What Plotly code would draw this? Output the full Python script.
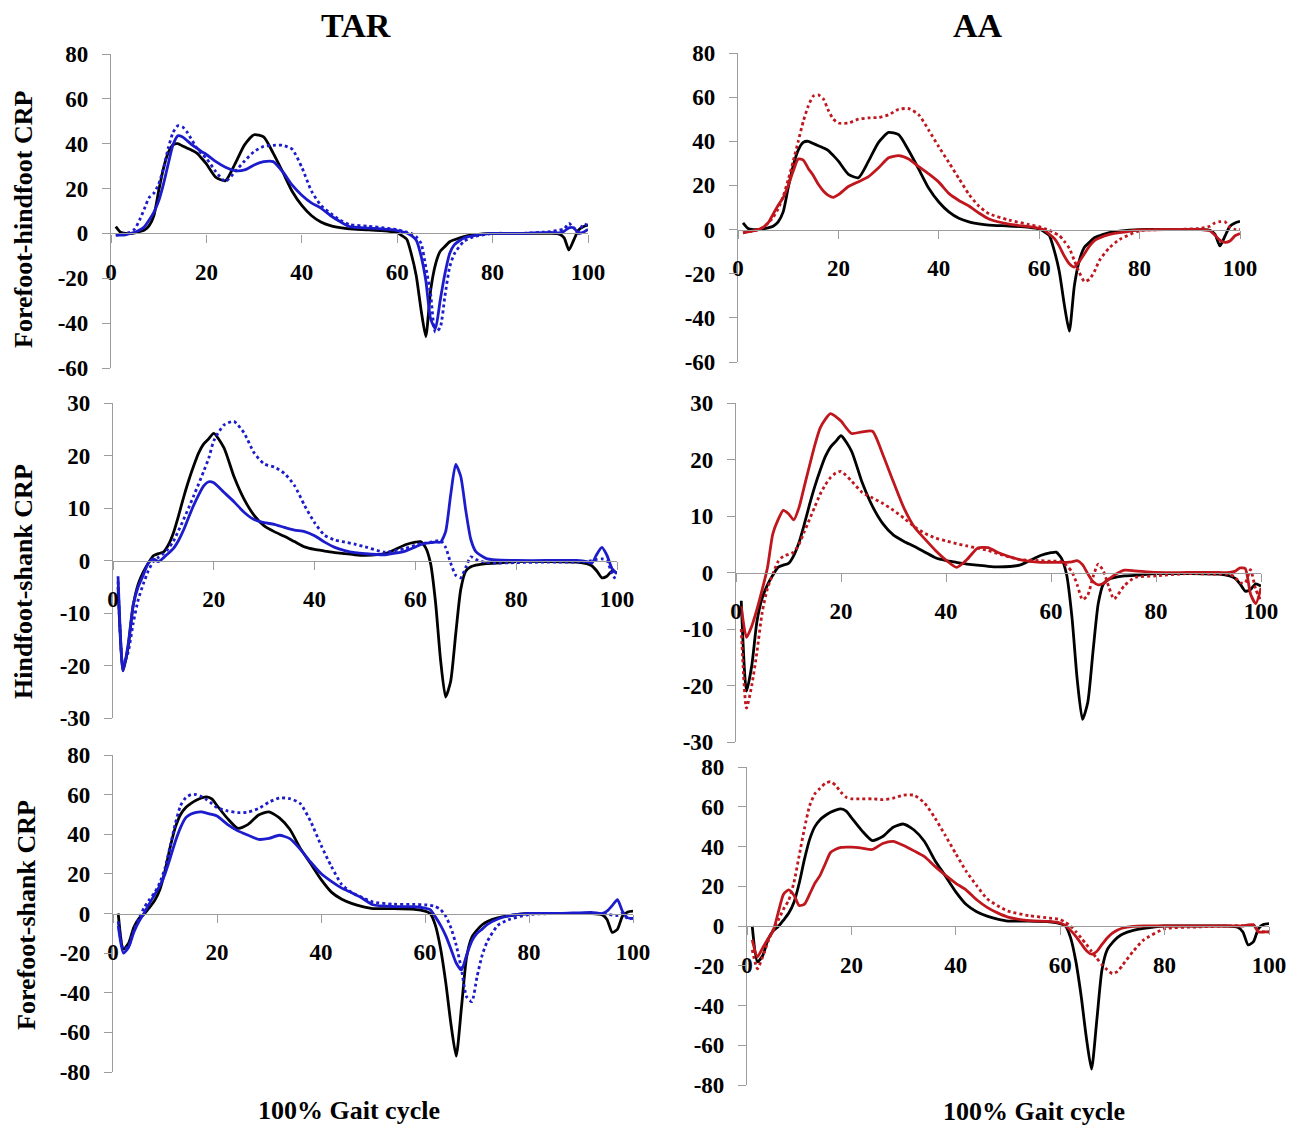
import plotly.graph_objects as go

W, H = 1299, 1131
OFF = 8  # the page body margin that the browser adds around the figure

# ---------------- data ----------------
GAIT = [1, 2, 3, 4, 5, 6, 7, 8, 9, 10,
        11, 12, 13, 14, 15, 16, 17, 18, 19, 20,
        22, 24, 26, 28, 30, 32, 34, 36, 38, 40,
        42, 44, 46, 48, 50, 54, 58, 60, 61, 62,
        63, 64, 65, 66, 67, 68, 69, 70, 71, 72,
        74, 76, 80, 86, 92, 94, 95, 96, 97, 98,
        99, 100]

# Forefoot-hindfoot CRP
FH_CONTROL = [3, 0.5, 0, 0, 0.3, 0.8, 1.5, 3.5, 8, 19,
              29, 36, 39.5, 40, 39, 38, 37, 35.8, 33.5, 31,
              25, 23.5, 31, 39.5, 44, 43, 35.8, 27.4, 18.7, 12.5,
              8, 5.1, 3.5, 2.6, 2, 1.6, 1, 0.3, -1, -2.6,
              -9.5, -19, -34, -46, -25.5, -14, -8, -5.8, -3.7, -2.8,
              -1.4, -0.7, 0, 0, 0, -0.3, -2, -7.4, -3, 1.5,
              3, 3.7]
FH_TAR_SOLID = [-0.7, -0.7, -0.6, 0, 0.5, 1.5, 3, 6, 9.5, 14.5,
                22, 31, 39.5, 43.5, 43, 41.3, 39.5, 38, 36.5, 35.2,
                32, 29.5, 28, 28.3, 30.5, 32, 32, 27.5, 21.5, 17,
                13.6, 11.3, 8, 5.3, 3, 2.4, 1.8, 1.3, 0.8, 0.2,
                -1, -3, -10, -21, -38, -42.5, -30, -18, -9, -5,
                -2, -1, 0, 0, 0.5, 0.2, 1, 2.5, 2.5, 0,
                0.5, 1.8]
FH_TAR_DOTTED = [-0.7, -0.5, 0, 0.5, 2, 6, 11, 16, 18, 22,
                 29, 38, 45, 48, 47.5, 45, 41.5, 38, 35.5, 33.5,
                 27.5, 23.2, 27.5, 32.3, 36.5, 38.8, 39.3, 39.3, 37.5, 29.5,
                 19, 12.5, 9, 6, 4, 3.2, 2.3, 1.7, 1.2, 0.6,
                 0, -1.5, -4.4, -15, -27, -44, -42, -28, -15, -9,
                 -3.5, -1.5, 0, 0, 0.8, 1.5, 2, 4.5, 2.5, 0.5,
                 4, 3.7]
FH_AA_SOLID = [-1.5, -1, -0.6, 0, 1, 3, 7, 11, 14.5, 20,
               26.5, 32, 31.5, 27.7, 24.5, 20.5, 17.5, 15.5, 14.6, 15.8,
               19.5, 21.7, 24, 28, 32.5, 33.5, 32, 28.5, 25.2, 21.5,
               16.4, 13.2, 10.7, 7.5, 4.8, 2.5, 1.3, 0.5, -0.2, -2,
               -4, -7.5, -12, -15.5, -17, -14.5, -11, -7.5, -5, -3.8,
               -2.2, -1.4, -0.2, 0, 0, -0.5, -2.5, -4.8, -5.8, -5.2,
               -2.8, -1.8]
FH_AA_DOTTED = [-1.5, -1, -0.6, 0, 1, 3, 5.5, 9.5, 15, 22.6,
                31, 40, 49, 56, 60.5, 61, 59.2, 54, 50, 48.3,
                48.3, 50, 50.6, 50.8, 52, 54.5, 54.8, 52, 45, 37.5,
                30.4, 23.2, 16, 10.6, 7.2, 4.3, 2.3, 1.3, 0.5, -0.3,
                -1.5, -2.7, -5.3, -8.5, -14, -19.5, -23.5, -22.5, -19, -14,
                -8.2, -4.5, -0.5, 0, 0.5, 1.5, 3, 3.6, 3.5, 1,
                0, 0]

# Hindfoot-shank CRP
HS_CONTROL = [-5, -21, -16.5, -8.6, -4.5, -2.2, -0.5, 0.9, 1.3, 1.6,
              3, 5.3, 8.5, 12, 15.2, 18, 20.5, 22.2, 23.2, 24.2,
              21.5, 16, 11.7, 8.6, 6.6, 5.5, 4.6, 3.6, 2.6, 2.1,
              1.8, 1.5, 1.3, 1.1, 1, 1.3, 3, 3.5, 3.6, 2.5,
              -0.5, -8, -19, -26, -23, -14, -5.5, -2, -1.2, -0.9,
              -0.6, -0.5, -0.2, -0.2, -0.3, -0.6, -1, -2, -3.3, -3,
              -2, -2.4]
HS_TAR_SOLID = [-3, -21, -16, -8.5, -5, -2.8, -0.5, 0.3, -0.2, 0.5,
                1.4, 2.3, 3.8, 5.8, 8.2, 10.5, 12.5, 14.2, 15, 14.8,
                13, 11.2, 9.2, 7.8, 7.2, 6.9, 6.3, 5.8, 5.5, 4.7,
                3.5, 2.5, 1.9, 1.5, 1.3, 1.1, 1.8, 2.6, 3, 3.3,
                3.4, 3.5, 3.5, 5.5, 12.5, 18.3, 16, 9.5, 4, 1.7,
                0.4, 0.1, 0, 0, 0, -0.2, -0.5, 1.2, 2.5, 1,
                -1.5, -2.5]
HS_TAR_DOTTED = [-4, -20, -17.5, -12, -7.5, -4.5, -2, -0.2, 0.6, 1.3,
                 2.3, 3.7, 5.7, 7.8, 10, 12.3, 14.6, 17, 19.5, 22.8,
                 25.8, 26.5, 24.3, 20.5, 18.4, 17.8, 16.6, 14.3, 10.5, 7.2,
                 4.8, 3.9, 3.5, 3.1, 2.6, 1.6, 2.3, 2.9, 3.2, 3.3,
                 3.5, 3.7, 3.8, 2.5, -0.5, -2.8, -3.3, -1.3, 0.7, 0.2,
                 -0.4, -0.5, -0.4, -0.3, -0.3, -0.2, 0, 0.2, 0.3, 0,
                 -2.5, -4]
HS_AA_SOLID = [-6, -11.5, -9.5, -6.5, -3, 0.9, 6.8, 9.3, 11, 10.4,
               9.3, 11.5, 15.2, 18.9, 22.5, 25.5, 27.1, 28.1, 27.6, 26.8,
               24.6, 24.9, 25, 20.8, 16, 11.4, 8, 5.9, 3.9, 2.2,
               0.9, 2.3, 4.3, 4.4, 3.5, 2.3, 1.8, 1.8, 1.8, 1.8,
               1.8, 1.9, 2.1, 1.4, -0.2, -1.6, -2.2, -1.9, -1.2, -0.5,
               0.4, 0.3, 0, 0, 0, 0, 0.2, 0.8, 0.7, -3.8,
               -5.5, -2.7]
HS_AA_DOTTED = [-10, -24, -20, -14, -7, -2.8, -0.3, 1.9, 2.9, 3.2,
                3.6, 5, 7.2, 9.4, 11.6, 13.8, 15.5, 16.8, 17.6, 17.9,
                16.2, 14.2, 13.2, 12.2, 11, 9.6, 8.1, 6.9, 6.1, 5.6,
                5.1, 4.7, 4.3, 3.9, 3.3, 2.3, 2.1, 2, 2, 1.9,
                1.2, 0.1, -2.2, -4.8, -4, -0.8, 1.5, 0.2, -2.5, -4.7,
                -2.3, -0.9, -0.6, -0.2, -0.3, -0.3, -0.8, -1.8, -1.8, 0.5,
                -3, -5]

# Forefoot-shank CRP
FS_CONTROL = [0, -18, -15, -7, -2.5, -0.3, 3, 6.5, 12, 21.5,
              33.5, 43.6, 50, 53.5, 55.6, 57.2, 58.3, 58.9, 57.8, 54.5,
              48, 43, 45, 49.7, 51.3, 48.3, 42.5, 33, 25.2, 17.2,
              10.8, 7.2, 5, 3.5, 2.5, 2.5, 2.1, 1.2, 0, -6,
              -17.8, -35, -56, -72, -47.7, -22, -12, -8.4, -5.7, -4,
              -2.2, -1.2, 0, 0, 0, -0.6, -3, -9.5, -8, -1.2,
              0.8, 1.2]
FS_TAR_SOLID = [-6, -20, -17, -9.5, -4, 0.3, 5, 9.5, 14, 20,
                28, 36.5, 43.5, 48.4, 50.2, 51.1, 51.3, 50.7, 50, 49.2,
                45, 41.7, 39.5, 37.4, 37.9, 39.5, 37.8, 32.5, 26, 20.2,
                16.2, 12.8, 10.3, 7.6, 4.4, 3.5, 3.4, 2.7, 2, -1.7,
                -6, -11.3, -18, -25, -28.5, -21, -14, -10, -7.9, -5.5,
                -2.8, -1.2, 0, 0, 0.6, 0, 1.2, 4, 7, 1,
                -2.2, -2.5]
FS_TAR_DOTTED = [-4, -18, -16.5, -8.5, -2.5, 3, 7, 10.5, 15.5, 23,
                 34, 45.5, 54.5, 58.5, 60, 60, 59, 57.5, 55.5, 53.5,
                 51.8, 50.9, 51.2, 53, 56.2, 58.3, 58, 55.5, 46.5, 34.5,
                 23.7, 14.6, 10.4, 8, 5.8, 4.7, 4.6, 4.4, 4.1, 3.5,
                 2, -1.5, -7.3, -16, -28, -42, -44.5, -32, -21, -14,
                 -6, -3.2, -0.5, 0, 0, 0, -0.4, -0.8, -1, 0.3,
                 -2.8, -2.2]
FS_AA_SOLID = [-7, -15.5, -11, -6.5, -2.5, 7, 16, 18.2, 15.5, 10.3,
               11, 16, 21.5, 25.5, 31.3, 37, 38.6, 39.5, 39.7, 39.7,
               39.2, 38.5, 41.5, 42.6, 40.5, 37.8, 34.9, 30, 25.6, 21.5,
               18.1, 13.2, 9.4, 6.6, 4.5, 2.7, 2.3, 1.5, 0.2, -2.2,
               -5.2, -8.8, -12.3, -14.2, -12.8, -9.3, -6, -3.6, -2, -1,
               -0.2, 0, 0, 0, 0, 0, 0, 0.5, 0.6, -3,
               -3, -3]
FS_AA_DOTTED = [-12, -21.5, -15.5, -8, -2, 3, 8.5, 13, 22, 35.5,
                49, 60.5, 66.5, 69.3, 71.8, 72.6, 70.7, 67.3, 64.8, 64,
                64, 64, 63.6, 64.3, 65.8, 65.8, 61.9, 54.4, 45.5, 36.4,
                27.5, 20.3, 13.7, 10.2, 7.5, 5.2, 4, 3.3, 1.8, 0,
                -2.8, -6, -9.2, -12.8, -16.2, -19.5, -22, -24, -22.8, -19.5,
                -12.7, -7, -1.4, -0.5, 0, 0.2, 0.2, 0.3, 0.6, -2.5,
                -3, -3]

X_TICKS = [0, 20, 40, 60, 80, 100]
Y_TICKS_FH = [80, 60, 40, 20, 0, -20, -40, -60]
Y_TICKS_HS = [30, 20, 10, 0, -10, -20, -30]
Y_TICKS_FS = [80, 60, 40, 20, 0, -20, -40, -60, -80]

COLUMN_TITLES = ["TAR", "AA"]
ROW_TITLES = ["Forefoot-hindfoot CRP", "Hindfoot-shank CRP", "Forefoot-shank CRP"]
X_TITLE = "100% Gait cycle"

# ---------------- styling / layout ----------------
BLACK = "#000000"
BLUE = "#1c1ccc"
RED = "#bf171d"
AXIS_GREY = "#9c9c9c"
FONT = "Liberation Serif, Times New Roman, serif"
LW = 2.8

panels = [
    # (control, solid, dotted, colour, yticks, x pixel span, y pixel span)
    (FH_CONTROL, FH_TAR_SOLID, FH_TAR_DOTTED, BLUE, Y_TICKS_FH, (111, 588), (54, 368)),
    (FH_CONTROL, FH_AA_SOLID, FH_AA_DOTTED, RED, Y_TICKS_FH, (738, 1240), (53, 362)),
    (HS_CONTROL, HS_TAR_SOLID, HS_TAR_DOTTED, BLUE, Y_TICKS_HS, (113, 617), (403, 718)),
    (HS_CONTROL, HS_AA_SOLID, HS_AA_DOTTED, RED, Y_TICKS_HS, (736, 1261), (403, 742)),
    (FS_CONTROL, FS_TAR_SOLID, FS_TAR_DOTTED, BLUE, Y_TICKS_FS, (113, 633), (755, 1072)),
    (FS_CONTROL, FS_AA_SOLID, FS_AA_DOTTED, RED, Y_TICKS_FS, (747, 1269), (767, 1085)),
]


def pxx(px):
    return (px - OFF) / W


def pxy(py):
    return 1 - (py - OFF) / H


fig = go.Figure()
layout = {}
tickfont = dict(family=FONT, size=23, color="#000000", weight="bold")

for i, (ctrl, solid, dotted, colour, yt, (px0, px1), (py0, py1)) in enumerate(panels):
    k = i + 1
    xname = "x" if k == 1 else f"x{k}"
    yname = "y" if k == 1 else f"y{k}"
    fig.add_trace(go.Scatter(x=GAIT, y=ctrl, mode="lines", xaxis=xname, yaxis=yname,
                             line=dict(color=BLACK, width=LW, shape="spline", smoothing=0.6),
                             showlegend=False, hoverinfo="skip"))
    fig.add_trace(go.Scatter(x=GAIT, y=solid, mode="lines", xaxis=xname, yaxis=yname,
                             line=dict(color=colour, width=LW, shape="spline", smoothing=0.6),
                             showlegend=False, hoverinfo="skip"))
    fig.add_trace(go.Scatter(x=GAIT, y=dotted, mode="lines", xaxis=xname, yaxis=yname,
                             line=dict(color=colour, width=LW, dash="dot", shape="spline", smoothing=0.6),
                             showlegend=False, hoverinfo="skip"))
    ymin, ymax = min(yt), max(yt)
    dom_x = [pxx(px0), pxx(px1)]
    dom_y = [pxy(py1), pxy(py0)]
    zero_pos = dom_y[0] + (0 - ymin) / (ymax - ymin) * (dom_y[1] - dom_y[0])
    layout["xaxis" if k == 1 else f"xaxis{k}"] = dict(
        domain=dom_x, range=[0, 100], anchor="free", position=zero_pos, automargin=False,
        showline=True, linecolor=AXIS_GREY, linewidth=1.2,
        ticks="outside", ticklen=8, tickcolor=AXIS_GREY,
        tickvals=X_TICKS, ticktext=[str(v) for v in X_TICKS],
        showgrid=False, zeroline=False, tickfont=tickfont, ticklabelstandoff=10,
    )
    layout["yaxis" if k == 1 else f"yaxis{k}"] = dict(
        domain=dom_y, range=[ymin, ymax], anchor=xname, automargin=False,
        showline=True, linecolor=AXIS_GREY, linewidth=1.2,
        ticks="outside", ticklen=8, tickcolor=AXIS_GREY,
        tickvals=yt, ticktext=[str(v) for v in yt],
        showgrid=False, zeroline=False, tickfont=tickfont, ticklabelstandoff=9,
    )

ann = []


def add_text(txt, xp, yp, size, angle=0):
    ann.append(dict(text=f"<b>{txt}</b>", x=pxx(xp), y=pxy(yp), xref="paper", yref="paper",
                    showarrow=False, textangle=angle, xanchor="center", yanchor="middle",
                    font=dict(family=FONT, size=size, color="#000000")))


add_text(COLUMN_TITLES[0], 356, 26, 34)
add_text(COLUMN_TITLES[1], 978, 26, 34)
add_text(ROW_TITLES[0], 23, 220, 26, -90)
add_text(ROW_TITLES[1], 23, 582, 26, -90)
add_text(ROW_TITLES[2], 26, 915, 26, -90)
add_text(X_TITLE, 349, 1110, 26)
add_text(X_TITLE, 1034, 1111, 26)

fig.update_layout(width=W, height=H,
                  margin=dict(l=0, r=0, t=0, b=0, pad=0, autoexpand=False),
                  font=dict(family=FONT, color="#000000"),
                  paper_bgcolor="white", plot_bgcolor="white",
                  annotations=ann, **layout)

fig.write_html("out.html")
